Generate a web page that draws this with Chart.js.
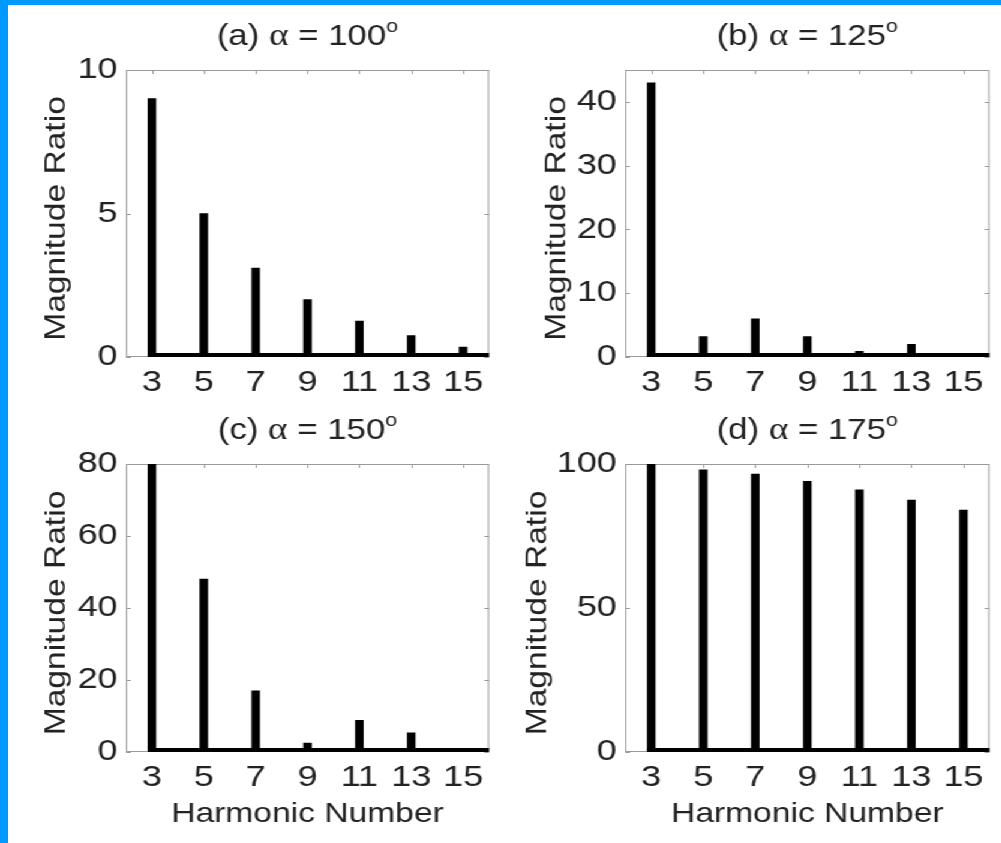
<!DOCTYPE html>
<html>
<head>
<meta charset="utf-8">
<script src="https://cdn.jsdelivr.net/npm/chart.js@4.4.0/dist/chart.umd.min.js"></script>
<style>
html, body { margin: 0; padding: 0; }
body { width: 1001px; height: 843px; background: #0099ff; position: relative; overflow: hidden; }
#paper { position: absolute; left: 8px; top: 5px; right: 0; bottom: 0; background: #fff; }
/* the source text is wide, so the panels are stretched sideways */
#stretch { position: absolute; left: 0; top: 0; width: 834px; height: 843px; transform: scaleX(1.2); transform-origin: 0 0; }
.panel { position: absolute; width: 417px; }
</style>
</head>
<body>
<div id="paper"></div>
<div id="stretch">
  <div class="panel" style="left:0;top:0;height:421px"><canvas id="chartA"></canvas></div>
  <div class="panel" style="left:417px;top:0;height:421px"><canvas id="chartB"></canvas></div>
  <div class="panel" style="left:0;top:380px;height:463px"><canvas id="chartC"></canvas></div>
  <div class="panel" style="left:417px;top:380px;height:463px"><canvas id="chartD"></canvas></div>
</div>
<script>
var harmonics = ['3', '5', '7', '9', '11', '13', '15'];
var ratioA = [9.0, 5.0, 3.1, 2.0, 1.25, 0.75, 0.35];
var ratioB = [43, 3.2, 6.0, 3.2, 0.9, 2.0, 0];
var ratioC = [80, 48, 17, 2.5, 8.8, 5.3, 0];
var ratioD = [100, 98, 96.5, 94, 91, 87.5, 84];
var alphaA = '100', alphaB = '125', alphaC = '150', alphaD = '175';

var SANS = '"Liberation Sans", Arial, sans-serif';
var SERIF = '"Liberation Serif", "DejaVu Serif", serif';
var BAR = 6.5;
var SX = 1.2;

// matlab-ish frame, inward ticks, thick zero line, titles
var matlabPlugin = {
    id: 'matlab',
    beforeDatasetsDraw: function(chart) {
        var ctx = chart.ctx, a = chart.chartArea;
        var xs = chart.scales.x, ys = chart.scales.y;
        ctx.save();
        ctx.strokeStyle = '#9a9a9a';
        ctx.lineWidth = 1;
        ctx.strokeRect(a.left + 0.5, a.top + 0.5, a.width - 1, a.height - 1);
        ctx.beginPath();
        xs.ticks.forEach(function(t, i) {
            var px = Math.round(xs.getPixelForTick(i)) + 0.5;
            ctx.moveTo(px, a.top); ctx.lineTo(px, a.top + 4);
            ctx.moveTo(px, a.bottom); ctx.lineTo(px, a.bottom - 4);
        });
        ys.ticks.forEach(function(t) {
            var py = Math.round(ys.getPixelForValue(t.value)) + 0.5;
            ctx.moveTo(a.left, py); ctx.lineTo(a.left + 4, py);
            ctx.moveTo(a.right, py); ctx.lineTo(a.right - 4, py);
        });
        ctx.stroke();
        ctx.restore();
    },
    afterDatasetsDraw: function(chart) {
        var ctx = chart.ctx, a = chart.chartArea;
        var xs = chart.scales.x, ys = chart.scales.y;
        var y0 = ys.getPixelForValue(0);
        var left = xs.getPixelForValue(0) - BAR / 2;
        ctx.save();
        ctx.fillStyle = '#000';
        ctx.fillRect(left, y0 - 4, a.right - left, 4);
        ctx.restore();
    },
    afterDraw: function(chart, args, opts) {
        var ctx = chart.ctx, a = chart.chartArea;
        var parts = [
            { text: opts.tag + ' ', font: '29px ' + SANS, rise: 0 },
            { text: '\u03b1', font: '31px ' + SERIF, rise: 0 },
            { text: ' = ' + opts.alpha, font: '29px ' + SANS, rise: 0 },
            { text: 'o', font: '18px ' + SANS, rise: 13 }
        ];
        ctx.save();
        ctx.fillStyle = '#222';
        ctx.textBaseline = 'alphabetic';
        var total = 0;
        parts.forEach(function(p) { ctx.font = p.font; p.w = ctx.measureText(p.text).width; total += p.w; });
        var x = (a.left + a.right) / 2 - total / 2;
        var base = a.top - 25;
        parts.forEach(function(p) {
            ctx.font = p.font;
            ctx.fillText(p.text, x, base - p.rise);
            x += p.w;
        });
        ctx.restore();

        // vertical axis label: undo the sideways stretch and lengthen it along the text
        ctx.save();
        ctx.fillStyle = '#222';
        ctx.font = '28px ' + SANS;
        ctx.textAlign = 'center';
        ctx.textBaseline = 'middle';
        ctx.translate(opts.yTitleX, (a.top + a.bottom) / 2 + 5);
        ctx.rotate(-Math.PI / 2);
        ctx.scale(SX, 1 / SX);
        ctx.fillText('Magnitude Ratio', 0, 0);
        ctx.restore();
    }
};

function makePanel(canvasId, values, tag, alpha, yMax, step, showXTitle, axisWidth, yTitleX, topPad) {
    var ctx = document.getElementById(canvasId).getContext('2d');
    new Chart(ctx, {
        type: 'bar',
        data: {
            labels: harmonics,
            datasets: [{
                data: values,
                backgroundColor: '#000',
                borderWidth: 0,
                barThickness: BAR
            }]
        },
        options: {
            responsive: true,
            maintainAspectRatio: false,
            animation: false,
            layout: { padding: { top: topPad, right: 9.5, left: 0, bottom: 0 } },
            plugins: {
                legend: { display: false },
                tooltip: { enabled: false },
                matlab: { tag: tag, alpha: alpha, yTitleX: yTitleX }
            },
            scales: {
                x: {
                    offset: true,
                    grid: { display: false, drawTicks: false },
                    border: { display: false },
                    ticks: { color: '#222', padding: 8, maxRotation: 0, autoSkip: false, font: { family: SANS, size: 30 } },
                    title: {
                        display: showXTitle,
                        text: 'Harmonic Number',
                        color: '#222',
                        padding: { top: 0, bottom: 12 },
                        font: { family: SANS, size: 28 }
                    },
                    afterFit: function(scale) { scale.height = showXTitle ? 91 : 64; }
                },
                y: {
                    min: 0,
                    max: yMax,
                    grid: { display: false, drawTicks: false },
                    border: { display: false },
                    ticks: { stepSize: step, includeBounds: false, color: '#222', padding: 7, font: { family: SANS, size: 30 } },
                    afterFit: function(scale) { scale.width = axisWidth; }
                }
            }
        },
        plugins: [matlabPlugin]
    });
}

makePanel('chartA', ratioA, '(a)', alphaA, 10, 5, false, 105, 48, 70);
makePanel('chartB', ratioB, '(b)', alphaB, 45, 10, false, 104, 48, 70);
makePanel('chartC', ratioC, '(c)', alphaC, 80, 20, true, 105, 48, 84);
makePanel('chartD', ratioD, '(d)', alphaD, 100, 50, true, 104, 32, 84);
</script>
</body>
</html>
